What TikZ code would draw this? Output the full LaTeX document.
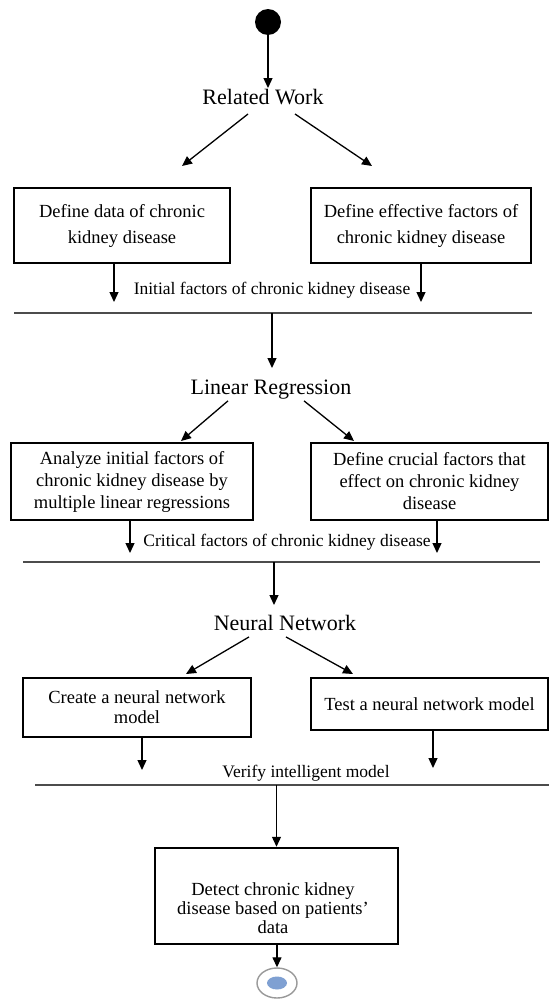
\documentclass[tikz,border=0pt]{standalone}
\usepackage{fontspec}
\setmainfont{Liberation Serif}
\usetikzlibrary{arrows.meta,calc,shapes.geometric}
\begin{document}
\begin{tikzpicture}[x=1pt,y=-1pt,
  arr/.style={-{Triangle[length=10pt,width=9pt]}, line width=1.3pt},
  bar/.style={line width=1.5pt, black!70},
  title/.style={font=\fontsize{22}{26}\selectfont, inner sep=1pt},
  flowlabel/.style={font=\fontsize{17.5}{21}\selectfont, inner sep=1pt},
  stepbox/.style={draw, line width=2.5pt, align=center, inner sep=2pt,
    font=\fontsize{18.5}{#1}\selectfont},
  stepbox/.default=22,
  boxtext/.style={align=center, inner sep=1pt, font=\fontsize{18.5}{#1}\selectfont},
  boxtext/.default=19,
  startdot/.style={circle, fill=black, minimum size=26pt, inner sep=0pt},
  endring/.style={ellipse, draw=black!40, line width=1.4pt, minimum width=40pt,
    minimum height=30pt, inner sep=0pt},
  enddot/.style={ellipse, fill={rgb,255:red,127;green,160;blue,210}, minimum width=20pt,
    minimum height=13pt, inner sep=0pt}
]
\fill[white] (0,0) rectangle (550,1004);
\useasboundingbox (0,0) rectangle (550,1004);

% ---- start and related work ----
\node[startdot] (start) at (268,22) {};
\node[title] (rw) at (263,97) {Related Work};
\draw[arr] (start) -- (start |- rw.north);

\coordinate (rwL) at (182,166);
\coordinate (rwR) at (372,166);
\draw[arr] ($(rw.south)+(-15,8)$) -- (rwL);
\draw[arr] ($(rw.south)+(32,8)$) -- (rwR);

\node[stepbox=26, minimum width=216pt, minimum height=75pt] (box1) at (122,225.5)
  {Define data of chronic\\kidney disease};
\node[stepbox=26, minimum width=220pt, minimum height=75pt] (box2) at (421,225.5)
  {Define effective factors of\\chronic kidney disease};

\coordinate (d1) at (114,302);
\coordinate (d2) at (421,302);
\draw[arr] (box1.south -| d1) -- (d1);
\draw[arr] (box2.south -| d2) -- (d2);
\node[flowlabel] (initf) at (272,290) {Initial factors of chronic kidney disease};

\coordinate (b1w) at (14,313);
\coordinate (b1e) at (532,313);
\draw[bar] (b1w) -- (b1e);
\coordinate (a2) at (272,368);
\draw[arr] (b1w -| a2) -- (a2);

% ---- linear regression ----
\node[title] (lr) at (271,390) {Linear Regression};
\coordinate (lrL) at (181,441);
\coordinate (lrR) at (354,441);
\draw[arr] ($(lr.south)+(-43,0)$) -- (lrL);
\draw[arr] ($(lr.south)+(33,0)$) -- (lrR);

\node[stepbox=22, minimum width=242pt, minimum height=77pt] (box3) at (132,481.5)
  {Analyze initial factors of\\chronic kidney disease by\\multiple linear regressions};
\node[stepbox=22, minimum width=237pt, minimum height=77pt] (box4) at (429.5,481.5)
  {Define crucial factors that\\effect on chronic kidney\\disease};

\coordinate (d3) at (130,553);
\coordinate (d4) at (437,553);
\draw[arr] (box3.south -| d3) -- (d3);
\draw[arr] (box4.south -| d4) -- (d4);
\node[flowlabel] (critf) at (287,542) {Critical factors of chronic kidney disease};

\coordinate (b2w) at (23,562);
\coordinate (b2e) at (540,562);
\draw[bar] (b2w) -- (b2e);
\coordinate (a3) at (274,605);
\draw[arr] (b2w -| a3) -- (a3);

% ---- neural network ----
\node[title] (nn) at (285,623) {Neural Network};
\coordinate (nnL) at (186,674);
\coordinate (nnR) at (353,674);
\draw[arr] ($(nn.south)+(-36,5)$) -- (nnL);
\draw[arr] ($(nn.south)+(1,5)$) -- (nnR);

\node[stepbox=20, minimum width=228pt, minimum height=59pt] (box5) at (137,707.5)
  {Create a neural network\\model};
\node[stepbox=20, minimum width=237pt, minimum height=52pt] (box6) at (429.5,704)
  {Test a neural network model};

\coordinate (d5) at (142,770);
\coordinate (d6) at (433,768);
\draw[arr] (box5.south -| d5) -- (d5);
\draw[arr] (box6.south -| d6) -- (d6);
\node[flowlabel] (verf) at (306,773) {Verify intelligent model};

\coordinate (b3w) at (35,785);
\coordinate (b3e) at (549,785);
\draw[bar] (b3w) -- (b3e);

% ---- detection and end ----
\node[stepbox, minimum width=243pt, minimum height=96pt] (box7) at (276.5,896) {};
\node[boxtext] (box7text) at (273,908)
  {Detect chronic kidney\\disease based on patients'\\data};
\draw[arr] (b3w -| box7.north) -- (box7.north);

\node[endring] (end) at (277,983) {};
\node[enddot] (enddot) at (end) {};
\draw[arr] (box7.south -| end) -- (end.north);
\end{tikzpicture}
\end{document}
